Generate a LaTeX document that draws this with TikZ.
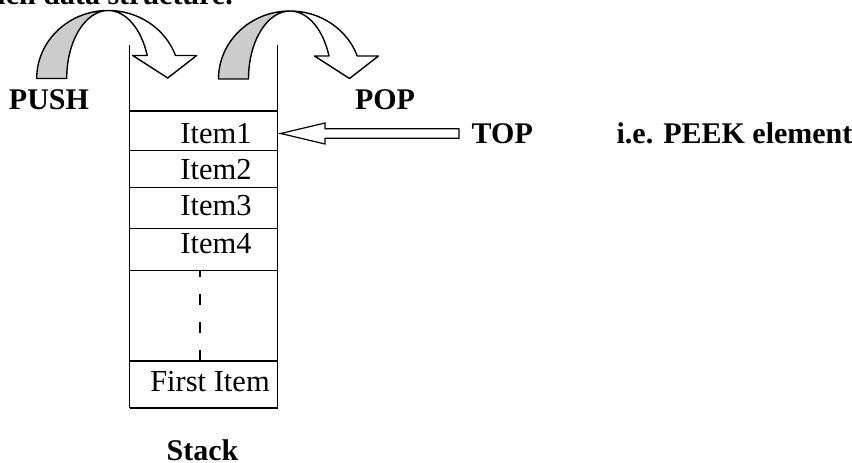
\documentclass[tikz,border=0pt]{standalone}
\usepackage{fontspec}
\setmainfont{Liberation Serif}
\usepackage{tikz}
\usetikzlibrary{positioning, calc}
\definecolor{bandgray}{RGB}{204,204,204}

\tikzset{
    lbl/.style={font=\fontsize{30}{36}\selectfont\bfseries, inner sep=0pt, anchor=base},
    itm/.style={font=\fontsize{30.5}{36}\selectfont, inner sep=0pt, anchor=base},
    wall/.style={line width=1.5pt},
    band/.style={line width=1.4pt, line join=round}
}

\begin{document}
\begin{tikzpicture}[x=1pt, y=1pt]
    \useasboundingbox (0,0) rectangle (852,463);
    \clip (0,0) rectangle (852,463);
    % cut-off heading line
    \node[lbl, anchor=base east] (head) at (233,458) {such data structure.};
    % stack walls and cells
    \draw[wall] (129.5,418) -- (129.5,55);
    \draw[wall] (277.5,418) -- (277.5,55);
    \foreach \yy in {352, 312.5, 275.5, 234.5, 192.5, 102, 55}
        \draw[wall] (129.5,\yy) -- (277.5,\yy);
    \draw[wall, dash pattern=on 11pt off 17pt] (200,102) -- (200,192.5);
    \node[itm] (item1) at (216,319.7) {Item1};
    \node[itm] (item2) at (216,283.7) {Item2};
    \node[itm] (item3) at (216,247) {Item3};
    \node[itm] (item4) at (216,209) {Item4};
    \node[itm] (first) at (210,71.3) {First Item};
    \node[lbl] (stack) at (202.5,2.5) {Stack};
    % curved push / pop arrows
    \def\bendang{19.77}
    \foreach \sx/\sy in {36.7/384.5, 218.5/384} {
        \begin{scope}[shift={(\sx,\sy)}]
            \draw[band, fill=bandgray] (0,0) arc[start angle=180, end angle=90, x radius=71.5, y radius=68]
                arc[start angle=90, end angle=180, x radius=41.5, y radius=68] -- cycle;
            \draw[band, fill=white] (71.5,68) arc[start angle=90, end angle=\bendang, x radius=71.5, y radius=68]
                -- (160,23) -- (131,0.5) -- (96,23) -- (110.5,23)
                arc[start angle=\bendang, end angle=90, x radius=41.5, y radius=68] -- cycle;
        \end{scope}
    }
    \node[lbl] (push) at (49,353) {PUSH};
    \node[lbl] (pop) at (385,353) {POP};
    % top pointer
    \node[lbl] (top) at (502.3,319) {TOP};
    \node[lbl] (peek) at (734.5,319.7) {i.e. PEEK element};
    \coordinate (tip) at (280.7,329.5);
    \draw[line width=1.2pt, line join=miter, fill=white] (tip) -- ++(44.3,10.5) -- ++(0,-5.8) -- ++(134,0)
        -- ++(0,-9.4) -- ++(-134,0) -- ++(0,-5.8) -- cycle;
\end{tikzpicture}
\end{document}
